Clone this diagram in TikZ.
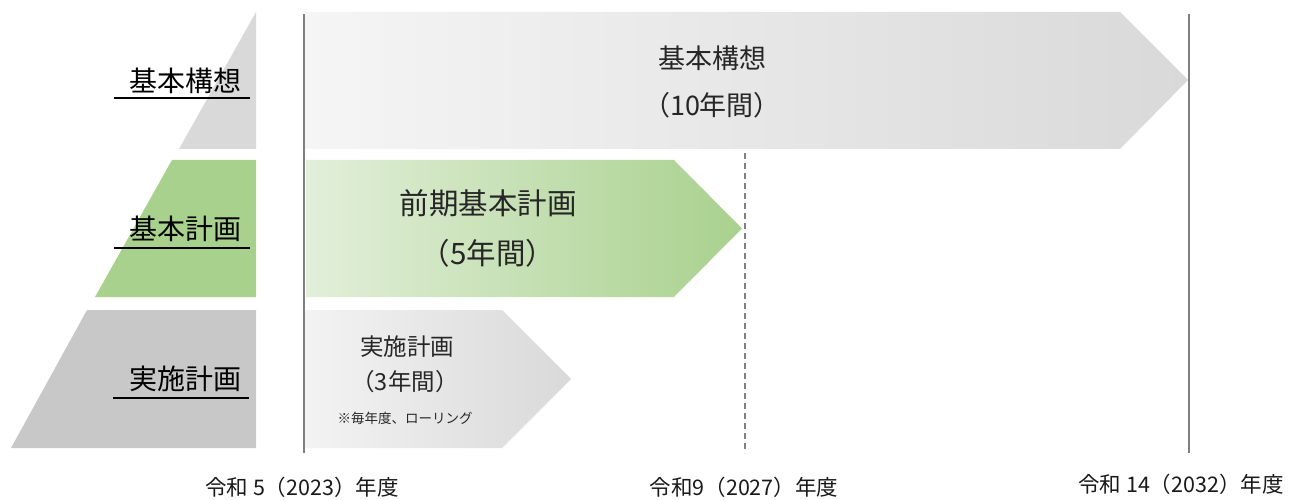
\documentclass[tikz,border=0pt]{standalone}
\usepackage{fontspec}
\setmainfont{Noto Sans CJK JP}
\begin{document}
\begin{tikzpicture}[x=1pt,y=-1pt,
  lbl/.style={inner sep=0pt, font=\fontsize{28}{32}\selectfont, text=black},
  arrtxt/.style={inner sep=0pt, text=black!85},
  yr/.style={inner sep=0pt, font=\fontsize{21.5}{24}\selectfont, text=black!90},
  uline/.style={black, line width=1.2pt},
  axis/.style={draw=black!50, line width=1.5pt}]
\useasboundingbox (0,0) rectangle (1307,500);
\definecolor{tri1}{RGB}{217,217,217}
\definecolor{tri2}{RGB}{169,209,142}
\definecolor{tri3}{RGB}{200,200,200}
\definecolor{g1l}{RGB}{245,245,245}
\definecolor{g1r}{RGB}{217,217,217}
\definecolor{g2l}{RGB}{226,239,218}
\definecolor{g2r}{RGB}{169,209,142}
\definecolor{g3l}{RGB}{243,243,243}
\definecolor{g3r}{RGB}{217,217,217}
% left pyramid slices
\fill[tri1] (256,12) -- (256,149) -- (179,149) -- cycle;
\fill[tri2] (172,160) -- (256,160) -- (256,297) -- (95,297) -- cycle;
\fill[tri3] (87,310) -- (256,310) -- (256,448) -- (11,448) -- cycle;
% left labels
\node[lbl] (l1) at (185,81) {基本構想};
\node[lbl] (l2) at (185,229) {基本計画};
\node[lbl] (l3) at (185,379) {実施計画};
\draw[uline] (114,98) -- (250,98);
\draw[uline] (114,248) -- (250,248);
\draw[uline] (113,398) -- (249,398);
% arrows
\shade[left color=g1l, right color=g1r] (305,12) -- (1120,12) -- (1188,80) -- (1120,149) -- (305,149) -- cycle;
\shade[left color=g2l, right color=g2r] (306,160) -- (674,160) -- (742,228.5) -- (674,297) -- (306,297) -- cycle;
\shade[left color=g3l, right color=g3r] (305,310) -- (502,310) -- (571,379) -- (502,448) -- (305,448) -- cycle;
% timeline lines
\coordinate (s0) at (304,14);
\coordinate (s1) at (304,453);
\coordinate (m0) at (745,153);
\coordinate (m1) at (745,453);
\coordinate (e0) at (1189,14);
\coordinate (e1) at (1189,453);
\draw[axis] (s0) -- (s1);
\draw[draw=black!50, line width=1.2pt, dash pattern=on 6pt off 4pt] (m0) -- (m1);
\draw[axis] (e0) -- (e1);
% arrow texts
\node[arrtxt, font=\fontsize{27}{30}\selectfont] (a1) at (712,58) {基本構想};
\node[arrtxt, font=\fontsize{27}{30}\selectfont] (a1b) at (712,105) {（10年間）};
\node[arrtxt, font=\fontsize{29.5}{34}\selectfont] (a2) at (488,203) {前期基本計画};
\node[arrtxt, font=\fontsize{29.5}{34}\selectfont] (a2b) at (488,253) {（5年間）};
\node[arrtxt, font=\fontsize{23.5}{28}\selectfont] (a3) at (407,347) {実施計画};
\node[arrtxt, font=\fontsize{23.5}{28}\selectfont] (a3b) at (405,382) {（3年間）};
\node[arrtxt, font=\fontsize{13.5}{16}\selectfont] (a3c) at (405,418) {※毎年度、ローリング};
% year labels
\node[yr] (y1) at (302,487) {令和 5（2023）年度};
\node[yr] (y2) at (744,487) {令和9（2027）年度};
\node[yr] (y3) at (1181,484) {令和 14（2032）年度};
\end{tikzpicture}
\end{document}
